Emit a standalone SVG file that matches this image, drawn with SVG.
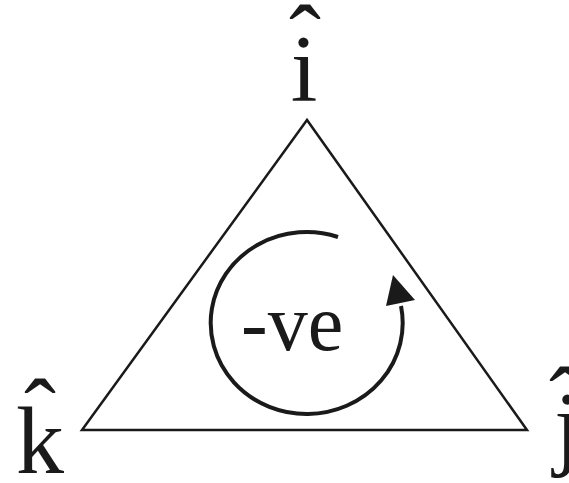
<svg xmlns="http://www.w3.org/2000/svg" width="569" height="483" viewBox="0 0 569 483">
<style>
.lbl{font-family:"Liberation Serif","Times New Roman",serif;font-size:96px;fill:#1a1a1a}
.edge{fill:none;stroke:#1a1a1a;stroke-width:2.5;stroke-linejoin:miter}
.loop{fill:none;stroke:#1a1a1a;stroke-width:4}
</style>
<rect width="569" height="483" fill="#fff"/>
<g id="connectors">
<polygon class="edge" points="307,120 82,430 527,430"/>
<path class="loop" d="M338,237 A96,91 0 1,0 401,306"/>
<polygon points="393,275 386,306 415,300" fill="#1a1a1a"/>
</g>
<g id="node-i">
<text class="lbl" x="304" y="101" text-anchor="middle">i</text>
<text class="lbl" x="305" y="71" text-anchor="middle">ˆ</text>
</g>
<g id="node-k">
<text class="lbl" x="16" y="473">k</text>
<text class="lbl" x="40" y="445" text-anchor="middle">ˆ</text>
</g>
<g id="node-j">
<text class="lbl" x="554" y="458">j</text>
<text class="lbl" x="565" y="433" text-anchor="middle">ˆ</text>
</g>
<g id="label-ve">
<text class="lbl" x="241" y="350" style="font-size:80px">-ve</text>
</g>
</svg>
